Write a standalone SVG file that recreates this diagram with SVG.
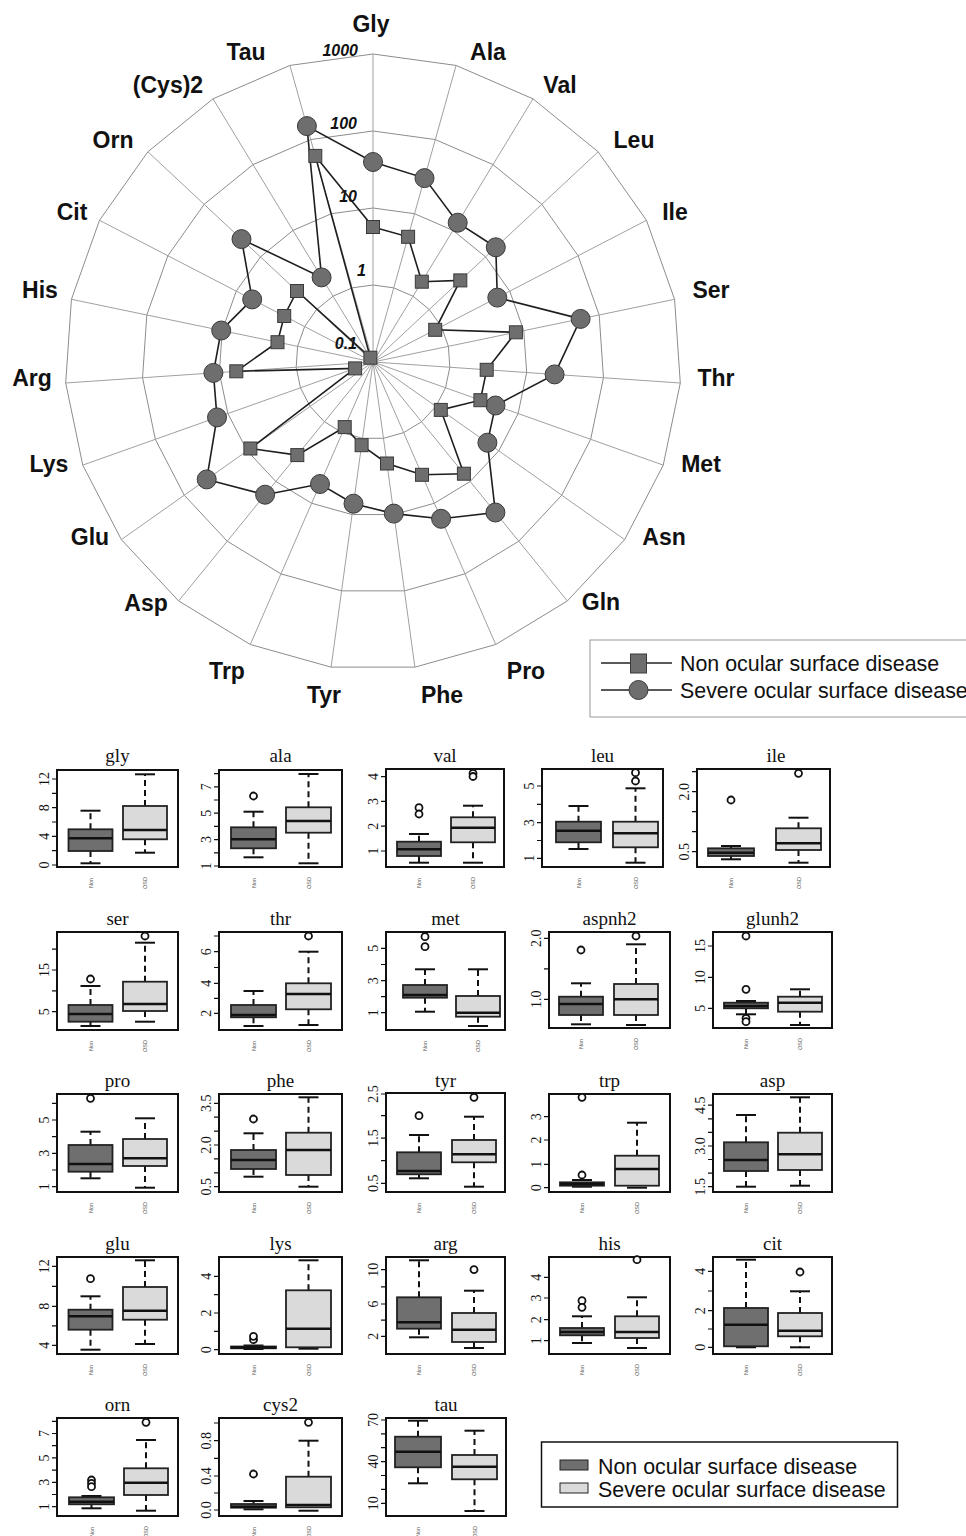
<svg xmlns="http://www.w3.org/2000/svg" xmlns:xlink="http://www.w3.org/1999/xlink" width="966" height="1536" viewBox="0 0 966 1536">
<style>
.ax{font-family:"Liberation Sans",Arial,sans-serif;font-weight:bold;font-size:23px;fill:#111;text-anchor:middle}
.rl{font-family:"Liberation Sans",Arial,sans-serif;font-weight:bold;font-style:italic;font-size:16px;fill:#111;text-anchor:end}
.lg{font-family:"Liberation Sans",Arial,sans-serif;font-size:21.4px;fill:#111}
.ring{fill:none;stroke:#8c8c8c;stroke-width:1;vector-effect:non-scaling-stroke}
.sp line{stroke:#a0a0a0;stroke-width:1}
.ser{fill:none;stroke:#1e1e1e;stroke-width:1.6}
.mk{fill:#6e6e6e;stroke:#3a3a3a;stroke-width:1}
.fr{fill:none;stroke:#111;stroke-width:2}
.tt{font-family:"Liberation Serif","Times New Roman",serif;font-size:19px;fill:#111;text-anchor:middle}
.yl{font-family:"Liberation Serif","Times New Roman",serif;font-size:14px;fill:#111;text-anchor:middle}
.xl{font-family:"Liberation Sans",Arial,sans-serif;font-size:5.5px;fill:#555;text-anchor:middle}
.tk{stroke:#111;stroke-width:1.2;fill:none}
.n{fill:#6f6f6f;stroke:#222;stroke-width:1.8}
.s{fill:#dadada;stroke:#222;stroke-width:1.8}
.md{stroke:#111;stroke-width:2.6}
.wk{stroke:#111;stroke-width:2;stroke-dasharray:6 4}
.cp{stroke:#111;stroke-width:2}
.o{fill:#fff;stroke:#111;stroke-width:1.8}
</style>
<defs>
<polygon id="ring" class="ring" points="0,-100 26.98,-96.29 51.96,-85.44 73.08,-68.26 88.79,-46.01 97.91,-20.35 99.77,6.82 94.23,33.49 81.70,57.67 63.10,77.58 39.84,91.72 13.62,99.07 -13.62,99.07 -39.84,91.72 -63.10,77.58 -81.70,57.67 -94.23,33.49 -99.77,6.82 -97.91,-20.35 -88.79,-46.01 -73.08,-68.26 -51.96,-85.44 -26.98,-96.29"/>
</defs>
<rect x="0" y="0" width="966" height="1536" fill="#fff"/>

<g id="radar-grid">
<use xlink:href="#ring" href="#ring" transform="translate(373,362) scale(0.77)"/>
<use xlink:href="#ring" href="#ring" transform="translate(373,362) scale(1.54)"/>
<use xlink:href="#ring" href="#ring" transform="translate(373,362) scale(2.31)"/>
<use xlink:href="#ring" href="#ring" transform="translate(373,362) scale(3.08)"/>
<g class="sp">
<line x1="373" y1="362" x2="373" y2="54"/>
<line x1="373" y1="362" x2="456.1" y2="65.4"/>
<line x1="373" y1="362" x2="533.0" y2="98.8"/>
<line x1="373" y1="362" x2="598.1" y2="151.8"/>
<line x1="373" y1="362" x2="646.5" y2="220.3"/>
<line x1="373" y1="362" x2="674.6" y2="299.3"/>
<line x1="373" y1="362" x2="680.3" y2="383.0"/>
<line x1="373" y1="362" x2="663.2" y2="465.1"/>
<line x1="373" y1="362" x2="624.6" y2="539.6"/>
<line x1="373" y1="362" x2="567.3" y2="600.9"/>
<line x1="373" y1="362" x2="495.7" y2="644.5"/>
<line x1="373" y1="362" x2="414.9" y2="667.1"/>
<line x1="373" y1="362" x2="331.1" y2="667.1"/>
<line x1="373" y1="362" x2="250.3" y2="644.5"/>
<line x1="373" y1="362" x2="178.7" y2="600.9"/>
<line x1="373" y1="362" x2="121.4" y2="539.6"/>
<line x1="373" y1="362" x2="82.8" y2="465.1"/>
<line x1="373" y1="362" x2="65.7" y2="383.0"/>
<line x1="373" y1="362" x2="71.4" y2="299.3"/>
<line x1="373" y1="362" x2="99.5" y2="220.3"/>
<line x1="373" y1="362" x2="147.9" y2="151.8"/>
<line x1="373" y1="362" x2="213.0" y2="98.8"/>
<line x1="373" y1="362" x2="289.9" y2="65.4"/>
</g>
<text class="rl" x="358" y="55.5">1000</text>
<text class="rl" x="357" y="128.5">100</text>
<text class="rl" x="357" y="202">10</text>
<text class="rl" x="366" y="275.5">1</text>
<text class="rl" x="357" y="348.5">0.1</text>
</g>

<g id="radar-labels">
<text class="ax" x="371" y="32">Gly</text>
<text class="ax" x="488" y="60">Ala</text>
<text class="ax" x="560" y="93">Val</text>
<text class="ax" x="634" y="148">Leu</text>
<text class="ax" x="675" y="220">Ile</text>
<text class="ax" x="711" y="298">Ser</text>
<text class="ax" x="716" y="386">Thr</text>
<text class="ax" x="701" y="472">Met</text>
<text class="ax" x="664" y="545">Asn</text>
<text class="ax" x="601" y="610">Gln</text>
<text class="ax" x="526" y="679">Pro</text>
<text class="ax" x="442" y="703">Phe</text>
<text class="ax" x="324" y="703">Tyr</text>
<text class="ax" x="227" y="679">Trp</text>
<text class="ax" x="146" y="611">Asp</text>
<text class="ax" x="90" y="545">Glu</text>
<text class="ax" x="49" y="472">Lys</text>
<text class="ax" x="32" y="386">Arg</text>
<text class="ax" x="40" y="298">His</text>
<text class="ax" x="72" y="220">Cit</text>
<text class="ax" x="113" y="148">Orn</text>
<text class="ax" x="168" y="93">(Cys)2</text>
<text class="ax" x="246" y="60">Tau</text>
</g>

<g id="connectors">
<polygon class="ser" points="373,162 424.5,178.1 457.7,222.7 495.8,247.3 497.3,297.6 580.6,318.9 554.6,374.4 495.5,405.5 487.4,442.7 495.4,512.5 441.1,518.8 393.8,513.6 353.5,503.7 320.0,484.0 265.1,494.7 206.7,479.4 217.0,417.4 213.4,372.9 221.2,330.5 252.2,299.4 241.5,239.1 321.6,277.4 306.9,126.1"/>
<polygon class="ser" points="373,227 408.1,236.8 421.8,281.7 460.3,280.4 435.2,329.8 515.9,332.3 486.7,369.8 480.4,400.2 440.8,409.9 463.9,473.7 422.0,474.8 387.0,463.5 361.6,445.2 344.7,427.1 297.3,455.1 250.4,448.5 355.1,368.4 236.3,371.3 277.5,342.2 284.2,316.0 297.0,291.0 370.4,357.7 315.3,155.9"/>
</g>

<g id="severe-markers" class="mk">
<circle cx="373" cy="162" r="9.5"/><circle cx="424.5" cy="178.1" r="9.5"/><circle cx="457.7" cy="222.7" r="9.5"/><circle cx="495.8" cy="247.3" r="9.5"/><circle cx="497.3" cy="297.6" r="9.5"/><circle cx="580.6" cy="318.9" r="9.5"/><circle cx="554.6" cy="374.4" r="9.5"/><circle cx="495.5" cy="405.5" r="9.5"/><circle cx="487.4" cy="442.7" r="9.5"/><circle cx="495.4" cy="512.5" r="9.5"/><circle cx="441.1" cy="518.8" r="9.5"/><circle cx="393.8" cy="513.6" r="9.5"/><circle cx="353.5" cy="503.7" r="9.5"/><circle cx="320.0" cy="484.0" r="9.5"/><circle cx="265.1" cy="494.7" r="9.5"/><circle cx="206.7" cy="479.4" r="9.5"/><circle cx="217.0" cy="417.4" r="9.5"/><circle cx="213.4" cy="372.9" r="9.5"/><circle cx="221.2" cy="330.5" r="9.5"/><circle cx="252.2" cy="299.4" r="9.5"/><circle cx="241.5" cy="239.1" r="9.5"/><circle cx="321.6" cy="277.4" r="9.5"/><circle cx="306.9" cy="126.1" r="9.5"/>
</g>
<g id="non-markers" class="mk">
<rect x="366.5" y="220.5" width="13" height="13"/><rect x="401.6" y="230.3" width="13" height="13"/><rect x="415.3" y="275.2" width="13" height="13"/><rect x="453.8" y="273.9" width="13" height="13"/><rect x="428.7" y="323.3" width="13" height="13"/><rect x="509.4" y="325.8" width="13" height="13"/><rect x="480.2" y="363.3" width="13" height="13"/><rect x="473.9" y="393.7" width="13" height="13"/><rect x="434.3" y="403.4" width="13" height="13"/><rect x="457.4" y="467.2" width="13" height="13"/><rect x="415.5" y="468.3" width="13" height="13"/><rect x="380.5" y="457.0" width="13" height="13"/><rect x="355.1" y="438.7" width="13" height="13"/><rect x="338.2" y="420.6" width="13" height="13"/><rect x="290.8" y="448.6" width="13" height="13"/><rect x="243.9" y="442.0" width="13" height="13"/><rect x="348.6" y="361.9" width="13" height="13"/><rect x="229.8" y="364.8" width="13" height="13"/><rect x="271.0" y="335.7" width="13" height="13"/><rect x="277.7" y="309.5" width="13" height="13"/><rect x="290.5" y="284.5" width="13" height="13"/><rect x="363.9" y="351.2" width="13" height="13"/><rect x="308.8" y="149.4" width="13" height="13"/>
</g>

<g id="radar-legend">
<rect x="590" y="640" width="390" height="77" fill="none" stroke="#9a9a9a" stroke-width="1"/>
<line x1="601" y1="663" x2="672" y2="663" stroke="#222" stroke-width="1.5"/>
<rect x="630.5" y="654" width="16" height="19" class="mk"/>
<line x1="601" y1="690" x2="672" y2="690" stroke="#222" stroke-width="1.5"/>
<circle cx="638.5" cy="690" r="9.5" class="mk"/>
<text class="lg" x="680" y="671">Non ocular surface disease</text>
<text class="lg" x="680" y="698">Severe ocular surface disease</text>
</g>

<!-- Row 1 -->
<g id="p-gly">
<rect class="fr" x="57" y="770" width="121" height="97"/>
<text class="tt" x="117.5" y="762">gly</text>
<path class="tk" d="M52 865H57M52 850.7H57M52 836.3H57M52 822H57M52 807.7H57M52 793.3H57M52 779H57"/>
<text class="yl" transform="translate(49,865) rotate(-90)">0</text>
<text class="yl" transform="translate(49,836.3) rotate(-90)">4</text>
<text class="yl" transform="translate(49,807.7) rotate(-90)">8</text>
<text class="yl" transform="translate(49,779) rotate(-90)">12</text>
<text class="xl" transform="translate(92.5,883) rotate(-90)">Non</text>
<text class="xl" transform="translate(147,883) rotate(-90)">OSD</text>
<line class="wk" x1="90.5" y1="829.3" x2="90.5" y2="810.7"/><line class="wk" x1="90.5" y1="851" x2="90.5" y2="863.3"/>
<line class="cp" x1="80.5" y1="810.7" x2="100.5" y2="810.7"/><line class="cp" x1="80.5" y1="863.3" x2="100.5" y2="863.3"/>
<rect class="n" x="68.5" y="829.3" width="44" height="21.7"/><line class="md" x1="68.5" y1="838.3" x2="112.5" y2="838.3"/>
<line class="wk" x1="145" y1="806" x2="145" y2="774.3"/><line class="wk" x1="145" y1="839.3" x2="145" y2="852.7"/>
<line class="cp" x1="135" y1="774.3" x2="155" y2="774.3"/><line class="cp" x1="135" y1="852.7" x2="155" y2="852.7"/>
<rect class="s" x="123" y="806" width="44" height="33.3"/><line class="md" x1="123" y1="830" x2="167" y2="830"/>
</g>

<g id="p-ala">
<rect class="fr" x="219" y="770" width="123" height="97"/>
<text class="tt" x="280.5" y="762">ala</text>
<path class="tk" d="M214 866H219M214 852.8H219M214 839.6H219M214 826.4H219M214 813.2H219M214 800H219M214 786.8H219M214 773.6H219"/>
<text class="yl" transform="translate(211,866) rotate(-90)">1</text>
<text class="yl" transform="translate(211,839.6) rotate(-90)">3</text>
<text class="yl" transform="translate(211,813.2) rotate(-90)">5</text>
<text class="yl" transform="translate(211,786.8) rotate(-90)">7</text>
<text class="xl" transform="translate(255.5,883) rotate(-90)">Non</text>
<text class="xl" transform="translate(310.5,883) rotate(-90)">OSD</text>
<line class="wk" x1="253.5" y1="827.3" x2="253.5" y2="811.7"/><line class="wk" x1="253.5" y1="848.3" x2="253.5" y2="857.3"/>
<line class="cp" x1="243.5" y1="811.7" x2="263.5" y2="811.7"/><line class="cp" x1="243.5" y1="857.3" x2="263.5" y2="857.3"/>
<rect class="n" x="231" y="827.3" width="45" height="21"/><line class="md" x1="231" y1="839.3" x2="276" y2="839.3"/>
<circle class="o" cx="253.5" cy="796" r="3.5"/>
<line class="wk" x1="308.5" y1="807.3" x2="308.5" y2="774"/><line class="wk" x1="308.5" y1="832.7" x2="308.5" y2="863.3"/>
<line class="cp" x1="298.5" y1="774" x2="318.5" y2="774"/><line class="cp" x1="298.5" y1="863.3" x2="318.5" y2="863.3"/>
<rect class="s" x="286" y="807.3" width="45" height="25.4"/><line class="md" x1="286" y1="821" x2="331" y2="821"/>
</g>

<g id="p-val">
<rect class="fr" x="386" y="769" width="118" height="98"/>
<text class="tt" x="445" y="762">val</text>
<path class="tk" d="M381 851H386M381 826.2H386M381 801.4H386M381 776.6H386"/>
<text class="yl" transform="translate(378,851) rotate(-90)">1</text>
<text class="yl" transform="translate(378,826.2) rotate(-90)">2</text>
<text class="yl" transform="translate(378,801.4) rotate(-90)">3</text>
<text class="yl" transform="translate(378,776.6) rotate(-90)">4</text>
<text class="xl" transform="translate(421,883) rotate(-90)">Non</text>
<text class="xl" transform="translate(475,883) rotate(-90)">OSD</text>
<line class="wk" x1="419" y1="841.7" x2="419" y2="834"/><line class="wk" x1="419" y1="856" x2="419" y2="862.7"/>
<line class="cp" x1="409" y1="834" x2="429" y2="834"/><line class="cp" x1="409" y1="862.7" x2="429" y2="862.7"/>
<rect class="n" x="397" y="841.7" width="44" height="14.3"/><line class="md" x1="397" y1="849.3" x2="441" y2="849.3"/>
<circle class="o" cx="419" cy="807.7" r="3.5"/><circle class="o" cx="419" cy="814" r="3.5"/>
<line class="wk" x1="473" y1="817.3" x2="473" y2="805.7"/><line class="wk" x1="473" y1="842.3" x2="473" y2="862.7"/>
<line class="cp" x1="463" y1="805.7" x2="483" y2="805.7"/><line class="cp" x1="463" y1="862.7" x2="483" y2="862.7"/>
<rect class="s" x="451" y="817.3" width="44" height="25"/><line class="md" x1="451" y1="827.7" x2="495" y2="827.7"/>
<circle class="o" cx="473" cy="773.3" r="3.5"/><circle class="o" cx="473" cy="776.5" r="3.5"/>
</g>

<g id="p-leu">
<rect class="fr" x="542" y="769" width="121" height="98"/>
<text class="tt" x="602.5" y="762">leu</text>
<path class="tk" d="M537 858.3H542M537 840.5H542M537 822.7H542M537 804.4H542M537 786H542"/>
<text class="yl" transform="translate(534,858.3) rotate(-90)">1</text>
<text class="yl" transform="translate(534,822.7) rotate(-90)">3</text>
<text class="yl" transform="translate(534,786) rotate(-90)">5</text>
<text class="xl" transform="translate(580.5,883) rotate(-90)">Non</text>
<text class="xl" transform="translate(637.5,883) rotate(-90)">OSD</text>
<line class="wk" x1="578.5" y1="821.7" x2="578.5" y2="806"/><line class="wk" x1="578.5" y1="842.3" x2="578.5" y2="849"/>
<line class="cp" x1="568.5" y1="806" x2="588.5" y2="806"/><line class="cp" x1="568.5" y1="849" x2="588.5" y2="849"/>
<rect class="n" x="556" y="821.7" width="45" height="20.6"/><line class="md" x1="556" y1="830.7" x2="601" y2="830.7"/>
<line class="wk" x1="635.5" y1="821.7" x2="635.5" y2="788.3"/><line class="wk" x1="635.5" y1="847.3" x2="635.5" y2="862.7"/>
<line class="cp" x1="625.5" y1="788.3" x2="645.5" y2="788.3"/><line class="cp" x1="625.5" y1="862.7" x2="645.5" y2="862.7"/>
<rect class="s" x="613" y="821.7" width="45" height="25.6"/><line class="md" x1="613" y1="833.3" x2="658" y2="833.3"/>
<circle class="o" cx="635.5" cy="772.7" r="3.5"/><circle class="o" cx="635.5" cy="781" r="3.5"/>
</g>

<g id="p-ile">
<rect class="fr" x="697" y="769" width="133" height="98"/>
<text class="tt" x="776" y="762">ile</text>
<path class="tk" d="M692 851.7H697M692 831.7H697M692 811.7H697M692 791.7H697M692 771.7H697"/>
<text class="yl" transform="translate(689,851.7) rotate(-90)">0.5</text>
<text class="yl" transform="translate(689,791.7) rotate(-90)">2.0</text>
<text class="xl" transform="translate(733,883) rotate(-90)">Non</text>
<text class="xl" transform="translate(800.5,883) rotate(-90)">OSD</text>
<line class="wk" x1="731" y1="848.3" x2="731" y2="846"/><line class="wk" x1="731" y1="856" x2="731" y2="859.3"/>
<line class="cp" x1="721" y1="846" x2="741" y2="846"/><line class="cp" x1="721" y1="859.3" x2="741" y2="859.3"/>
<rect class="n" x="708" y="848.3" width="46" height="7.7"/><line class="md" x1="708" y1="852.7" x2="754" y2="852.7"/>
<circle class="o" cx="731" cy="800" r="3.5"/>
<line class="wk" x1="798.5" y1="828.3" x2="798.5" y2="817.7"/><line class="wk" x1="798.5" y1="850" x2="798.5" y2="862.7"/>
<line class="cp" x1="788.5" y1="817.7" x2="808.5" y2="817.7"/><line class="cp" x1="788.5" y1="862.7" x2="808.5" y2="862.7"/>
<rect class="s" x="776" y="828.3" width="45" height="21.7"/><line class="md" x1="776" y1="843.3" x2="821" y2="843.3"/>
<circle class="o" cx="798.5" cy="773.3" r="3.5"/>
</g>

<!-- Row 2 -->
<g id="p-ser">
<rect class="fr" x="57" y="932" width="121" height="98"/>
<text class="tt" x="117.5" y="925">ser</text>
<path class="tk" d="M52 1011.7H57M52 990.8H57M52 970H57M52 949.2H57"/>
<text class="yl" transform="translate(49,1011.7) rotate(-90)">5</text>
<text class="yl" transform="translate(49,970) rotate(-90)">15</text>
<text class="xl" transform="translate(92.5,1046) rotate(-90)">Non</text>
<text class="xl" transform="translate(147,1046) rotate(-90)">OSD</text>
<line class="wk" x1="90.5" y1="1005" x2="90.5" y2="986"/><line class="wk" x1="90.5" y1="1021.7" x2="90.5" y2="1026"/>
<line class="cp" x1="80.5" y1="986" x2="100.5" y2="986"/><line class="cp" x1="80.5" y1="1026" x2="100.5" y2="1026"/>
<rect class="n" x="68.5" y="1005" width="44" height="16.7"/><line class="md" x1="68.5" y1="1014" x2="112.5" y2="1014"/>
<circle class="o" cx="90.5" cy="979" r="3.5"/>
<line class="wk" x1="145" y1="981.7" x2="145" y2="942.7"/><line class="wk" x1="145" y1="1011" x2="145" y2="1021.7"/>
<line class="cp" x1="135" y1="942.7" x2="155" y2="942.7"/><line class="cp" x1="135" y1="1021.7" x2="155" y2="1021.7"/>
<rect class="s" x="123" y="981.7" width="44" height="29.3"/><line class="md" x1="123" y1="1004" x2="167" y2="1004"/>
<circle class="o" cx="145" cy="936" r="3.5"/>
</g>

<g id="p-thr">
<rect class="fr" x="219" y="932" width="123" height="98"/>
<text class="tt" x="280.5" y="925">thr</text>
<path class="tk" d="M214 1013.3H219M214 998.3H219M214 983.3H219M214 967.5H219M214 951.7H219M214 936H219"/>
<text class="yl" transform="translate(211,1013.3) rotate(-90)">2</text>
<text class="yl" transform="translate(211,983.3) rotate(-90)">4</text>
<text class="yl" transform="translate(211,951.7) rotate(-90)">6</text>
<text class="xl" transform="translate(255.5,1046) rotate(-90)">Non</text>
<text class="xl" transform="translate(310.5,1046) rotate(-90)">OSD</text>
<line class="wk" x1="253.5" y1="1005" x2="253.5" y2="991"/><line class="wk" x1="253.5" y1="1017.3" x2="253.5" y2="1026"/>
<line class="cp" x1="243.5" y1="991" x2="263.5" y2="991"/><line class="cp" x1="243.5" y1="1026" x2="263.5" y2="1026"/>
<rect class="n" x="231" y="1005" width="45" height="12.3"/><line class="md" x1="231" y1="1015" x2="276" y2="1015"/>
<line class="wk" x1="308.5" y1="983.3" x2="308.5" y2="951.7"/><line class="wk" x1="308.5" y1="1009.3" x2="308.5" y2="1025"/>
<line class="cp" x1="298.5" y1="951.7" x2="318.5" y2="951.7"/><line class="cp" x1="298.5" y1="1025" x2="318.5" y2="1025"/>
<rect class="s" x="286" y="983.3" width="45" height="26"/><line class="md" x1="286" y1="994" x2="331" y2="994"/>
<circle class="o" cx="308.5" cy="936" r="3.5"/>
</g>

<g id="p-met">
<rect class="fr" x="386" y="932" width="119" height="98"/>
<text class="tt" x="445.5" y="925">met</text>
<path class="tk" d="M381 1012.7H386M381 996.7H386M381 980.7H386M381 964.5H386M381 948.3H386"/>
<text class="yl" transform="translate(378,1012.7) rotate(-90)">1</text>
<text class="yl" transform="translate(378,980.7) rotate(-90)">3</text>
<text class="yl" transform="translate(378,948.3) rotate(-90)">5</text>
<text class="xl" transform="translate(427,1046) rotate(-90)">Non</text>
<text class="xl" transform="translate(480,1046) rotate(-90)">OSD</text>
<line class="wk" x1="425" y1="985" x2="425" y2="969.3"/><line class="wk" x1="425" y1="997.7" x2="425" y2="1011.7"/>
<line class="cp" x1="415" y1="969.3" x2="435" y2="969.3"/><line class="cp" x1="415" y1="1011.7" x2="435" y2="1011.7"/>
<rect class="n" x="403" y="985" width="44" height="12.7"/><line class="md" x1="403" y1="995" x2="447" y2="995"/>
<circle class="o" cx="425" cy="936.7" r="3.5"/><circle class="o" cx="425" cy="946.7" r="3.5"/>
<line class="wk" x1="478" y1="996" x2="478" y2="969.3"/><line class="wk" x1="478" y1="1016.7" x2="478" y2="1026"/>
<line class="cp" x1="468" y1="969.3" x2="488" y2="969.3"/><line class="cp" x1="468" y1="1026" x2="488" y2="1026"/>
<rect class="s" x="456" y="996" width="44" height="20.7"/><line class="md" x1="456" y1="1012.7" x2="500" y2="1012.7"/>
</g>

<g id="p-aspnh2">
<rect class="fr" x="549" y="932" width="121" height="96"/>
<text class="tt" x="609.5" y="925">aspnh2</text>
<path class="tk" d="M544 999.3H549M544 968.8H549M544 938.3H549"/>
<text class="yl" transform="translate(541,999.3) rotate(-90)">1.0</text>
<text class="yl" transform="translate(541,938.3) rotate(-90)">2.0</text>
<text class="xl" transform="translate(583,1044) rotate(-90)">Non</text>
<text class="xl" transform="translate(638,1044) rotate(-90)">OSD</text>
<line class="wk" x1="581" y1="996.7" x2="581" y2="983.3"/><line class="wk" x1="581" y1="1015" x2="581" y2="1024.3"/>
<line class="cp" x1="571" y1="983.3" x2="591" y2="983.3"/><line class="cp" x1="571" y1="1024.3" x2="591" y2="1024.3"/>
<rect class="n" x="559" y="996.7" width="44" height="18.3"/><line class="md" x1="559" y1="1004" x2="603" y2="1004"/>
<circle class="o" cx="581" cy="950" r="3.5"/>
<line class="wk" x1="636" y1="984" x2="636" y2="944.3"/><line class="wk" x1="636" y1="1015" x2="636" y2="1025"/>
<line class="cp" x1="626" y1="944.3" x2="646" y2="944.3"/><line class="cp" x1="626" y1="1025" x2="646" y2="1025"/>
<rect class="s" x="614" y="984" width="44" height="31"/><line class="md" x1="614" y1="999.3" x2="658" y2="999.3"/>
<circle class="o" cx="636" cy="936" r="3.5"/>
</g>

<g id="p-glunh2">
<rect class="fr" x="713" y="932" width="119" height="96"/>
<text class="tt" x="772.5" y="925">glunh2</text>
<path class="tk" d="M708 1008.3H713M708 977.3H713M708 946H713"/>
<text class="yl" transform="translate(705,1008.3) rotate(-90)">5</text>
<text class="yl" transform="translate(705,977.3) rotate(-90)">10</text>
<text class="yl" transform="translate(705,946) rotate(-90)">15</text>
<text class="xl" transform="translate(748,1044) rotate(-90)">Non</text>
<text class="xl" transform="translate(802,1044) rotate(-90)">OSD</text>
<line class="wk" x1="746" y1="1008.3" x2="746" y2="1014.3"/>
<line class="cp" x1="736" y1="1001" x2="756" y2="1001"/><line class="cp" x1="736" y1="1014.3" x2="756" y2="1014.3"/>
<rect class="n" x="724" y="1002.7" width="44" height="5.6"/><line class="md" x1="724" y1="1006" x2="768" y2="1006"/>
<circle class="o" cx="746" cy="936" r="3.5"/><circle class="o" cx="746" cy="989.3" r="3.5"/><circle class="o" cx="746" cy="1018.3" r="3.5"/><circle class="o" cx="746" cy="1021.7" r="3.5"/>
<line class="wk" x1="800" y1="996.7" x2="800" y2="989.3"/><line class="wk" x1="800" y1="1011.7" x2="800" y2="1025"/>
<line class="cp" x1="790" y1="989.3" x2="810" y2="989.3"/><line class="cp" x1="790" y1="1025" x2="810" y2="1025"/>
<rect class="s" x="778" y="996.7" width="44" height="15"/><line class="md" x1="778" y1="1002.7" x2="822" y2="1002.7"/>
</g>

<!-- Row 3 -->
<g id="p-pro">
<rect class="fr" x="57" y="1094" width="121" height="98"/>
<text class="tt" x="117.5" y="1087">pro</text>
<path class="tk" d="M52 1186.7H57M52 1170H57M52 1153.3H57M52 1136.7H57M52 1120H57M52 1103.3H57"/>
<text class="yl" transform="translate(49,1186.7) rotate(-90)">1</text>
<text class="yl" transform="translate(49,1153.3) rotate(-90)">3</text>
<text class="yl" transform="translate(49,1120) rotate(-90)">5</text>
<text class="xl" transform="translate(92.5,1208) rotate(-90)">Non</text>
<text class="xl" transform="translate(147,1208) rotate(-90)">OSD</text>
<line class="wk" x1="90.5" y1="1145" x2="90.5" y2="1131.7"/><line class="wk" x1="90.5" y1="1171.7" x2="90.5" y2="1178.3"/>
<line class="cp" x1="80.5" y1="1131.7" x2="100.5" y2="1131.7"/><line class="cp" x1="80.5" y1="1178.3" x2="100.5" y2="1178.3"/>
<rect class="n" x="68.5" y="1145" width="44" height="26.7"/><line class="md" x1="68.5" y1="1164" x2="112.5" y2="1164"/>
<circle class="o" cx="90.5" cy="1098.3" r="3.5"/>
<line class="wk" x1="145" y1="1139" x2="145" y2="1118.3"/><line class="wk" x1="145" y1="1166" x2="145" y2="1187.7"/>
<line class="cp" x1="135" y1="1118.3" x2="155" y2="1118.3"/><line class="cp" x1="135" y1="1187.7" x2="155" y2="1187.7"/>
<rect class="s" x="123" y="1139" width="44" height="27"/><line class="md" x1="123" y1="1158.3" x2="167" y2="1158.3"/>
</g>

<g id="p-phe">
<rect class="fr" x="219" y="1094" width="123" height="98"/>
<text class="tt" x="280.5" y="1087">phe</text>
<path class="tk" d="M214 1186.7H219M214 1172.8H219M214 1158.9H219M214 1145H219M214 1131.1H219M214 1117.2H219M214 1103.3H219"/>
<text class="yl" transform="translate(211,1186.7) rotate(-90)">0.5</text>
<text class="yl" transform="translate(211,1145) rotate(-90)">2.0</text>
<text class="yl" transform="translate(211,1103.3) rotate(-90)">3.5</text>
<text class="xl" transform="translate(255.5,1208) rotate(-90)">Non</text>
<text class="xl" transform="translate(310.5,1208) rotate(-90)">OSD</text>
<line class="wk" x1="253.5" y1="1150" x2="253.5" y2="1133.3"/><line class="wk" x1="253.5" y1="1169" x2="253.5" y2="1176.7"/>
<line class="cp" x1="243.5" y1="1133.3" x2="263.5" y2="1133.3"/><line class="cp" x1="243.5" y1="1176.7" x2="263.5" y2="1176.7"/>
<rect class="n" x="231" y="1150" width="45" height="19"/><line class="md" x1="231" y1="1160" x2="276" y2="1160"/>
<circle class="o" cx="253.5" cy="1119" r="3.5"/>
<line class="wk" x1="308.5" y1="1132.7" x2="308.5" y2="1097.3"/><line class="wk" x1="308.5" y1="1175" x2="308.5" y2="1186.7"/>
<line class="cp" x1="298.5" y1="1097.3" x2="318.5" y2="1097.3"/><line class="cp" x1="298.5" y1="1186.7" x2="318.5" y2="1186.7"/>
<rect class="s" x="286" y="1132.7" width="45" height="42.3"/><line class="md" x1="286" y1="1150" x2="331" y2="1150"/>
</g>

<g id="p-tyr">
<rect class="fr" x="386" y="1093" width="119" height="99"/>
<text class="tt" x="445.5" y="1087">tyr</text>
<path class="tk" d="M381 1183.3H386M381 1160.7H386M381 1138.1H386M381 1115.6H386M381 1094H386"/>
<text class="yl" transform="translate(378,1183.3) rotate(-90)">0.5</text>
<text class="yl" transform="translate(378,1138.1) rotate(-90)">1.5</text>
<text class="yl" transform="translate(378,1094) rotate(-90)">2.5</text>
<text class="xl" transform="translate(421,1208) rotate(-90)">Non</text>
<text class="xl" transform="translate(476,1208) rotate(-90)">OSD</text>
<line class="wk" x1="419" y1="1152.3" x2="419" y2="1135"/><line class="wk" x1="419" y1="1174.3" x2="419" y2="1178.3"/>
<line class="cp" x1="409" y1="1135" x2="429" y2="1135"/><line class="cp" x1="409" y1="1178.3" x2="429" y2="1178.3"/>
<rect class="n" x="397" y="1152.3" width="44" height="22"/><line class="md" x1="397" y1="1171" x2="441" y2="1171"/>
<circle class="o" cx="419" cy="1115.7" r="3.5"/>
<line class="wk" x1="474" y1="1140" x2="474" y2="1116.7"/><line class="wk" x1="474" y1="1162.3" x2="474" y2="1186.7"/>
<line class="cp" x1="464" y1="1116.7" x2="484" y2="1116.7"/><line class="cp" x1="464" y1="1186.7" x2="484" y2="1186.7"/>
<rect class="s" x="452" y="1140" width="44" height="22.3"/><line class="md" x1="452" y1="1154.3" x2="496" y2="1154.3"/>
<circle class="o" cx="474" cy="1097.3" r="3.5"/>
</g>

<g id="p-trp">
<rect class="fr" x="549" y="1094" width="121" height="98"/>
<text class="tt" x="609.5" y="1087">trp</text>
<path class="tk" d="M544 1187.7H549M544 1164.3H549M544 1140H549M544 1116.7H549"/>
<text class="yl" transform="translate(541,1187.7) rotate(-90)">0</text>
<text class="yl" transform="translate(541,1164.3) rotate(-90)">1</text>
<text class="yl" transform="translate(541,1140) rotate(-90)">2</text>
<text class="yl" transform="translate(541,1116.7) rotate(-90)">3</text>
<text class="xl" transform="translate(584,1208) rotate(-90)">Non</text>
<text class="xl" transform="translate(639,1208) rotate(-90)">OSD</text>
<line class="cp" x1="572" y1="1180" x2="592" y2="1180"/><line class="cp" x1="572" y1="1186.7" x2="592" y2="1186.7"/>
<rect class="n" x="560" y="1182.3" width="44" height="3.4"/><line class="md" x1="560" y1="1184" x2="604" y2="1184"/>
<circle class="o" cx="582" cy="1175" r="3.5"/><circle class="o" cx="582" cy="1097.3" r="3.5"/>
<line class="wk" x1="637" y1="1155.7" x2="637" y2="1122.7"/>
<line class="cp" x1="627" y1="1122.7" x2="647" y2="1122.7"/><line class="cp" x1="627" y1="1187.7" x2="647" y2="1187.7"/>
<rect class="s" x="615" y="1155.7" width="44" height="30"/><line class="md" x1="615" y1="1169" x2="659" y2="1169"/>
</g>

<g id="p-asp">
<rect class="fr" x="713" y="1094" width="119" height="98"/>
<text class="tt" x="772.5" y="1087">asp</text>
<path class="tk" d="M708 1186.7H713M708 1173.1H713M708 1159.5H713M708 1146H713M708 1132.4H713M708 1118.8H713M708 1105.2H713"/>
<text class="yl" transform="translate(705,1186.7) rotate(-90)">1.5</text>
<text class="yl" transform="translate(705,1146) rotate(-90)">3.0</text>
<text class="yl" transform="translate(705,1105.2) rotate(-90)">4.5</text>
<text class="xl" transform="translate(748,1208) rotate(-90)">Non</text>
<text class="xl" transform="translate(802,1208) rotate(-90)">OSD</text>
<line class="wk" x1="746" y1="1142.3" x2="746" y2="1115"/><line class="wk" x1="746" y1="1171" x2="746" y2="1186.7"/>
<line class="cp" x1="736" y1="1115" x2="756" y2="1115"/><line class="cp" x1="736" y1="1186.7" x2="756" y2="1186.7"/>
<rect class="n" x="724" y="1142.3" width="44" height="28.7"/><line class="md" x1="724" y1="1160" x2="768" y2="1160"/>
<line class="wk" x1="800" y1="1132.7" x2="800" y2="1097.3"/><line class="wk" x1="800" y1="1170" x2="800" y2="1185.7"/>
<line class="cp" x1="790" y1="1097.3" x2="810" y2="1097.3"/><line class="cp" x1="790" y1="1185.7" x2="810" y2="1185.7"/>
<rect class="s" x="778" y="1132.7" width="44" height="37.3"/><line class="md" x1="778" y1="1154.3" x2="822" y2="1154.3"/>
</g>

<!-- Row 4 -->
<g id="p-glu">
<rect class="fr" x="57" y="1257" width="121" height="97"/>
<text class="tt" x="117.5" y="1250">glu</text>
<path class="tk" d="M52 1345.3H57M52 1325.8H57M52 1306.3H57M52 1286.3H57M52 1266.3H57"/>
<text class="yl" transform="translate(49,1345.3) rotate(-90)">4</text>
<text class="yl" transform="translate(49,1306.3) rotate(-90)">8</text>
<text class="yl" transform="translate(49,1266.3) rotate(-90)">12</text>
<text class="xl" transform="translate(92.5,1370) rotate(-90)">Non</text>
<text class="xl" transform="translate(147,1370) rotate(-90)">OSD</text>
<line class="wk" x1="90.5" y1="1309.7" x2="90.5" y2="1296.3"/><line class="wk" x1="90.5" y1="1329.7" x2="90.5" y2="1349.7"/>
<line class="cp" x1="80.5" y1="1296.3" x2="100.5" y2="1296.3"/><line class="cp" x1="80.5" y1="1349.7" x2="100.5" y2="1349.7"/>
<rect class="n" x="68.5" y="1309.7" width="44" height="20"/><line class="md" x1="68.5" y1="1316.3" x2="112.5" y2="1316.3"/>
<circle class="o" cx="90.5" cy="1278.7" r="3.5"/>
<line class="wk" x1="145" y1="1287" x2="145" y2="1260.3"/><line class="wk" x1="145" y1="1319.7" x2="145" y2="1344"/>
<line class="cp" x1="135" y1="1260.3" x2="155" y2="1260.3"/><line class="cp" x1="135" y1="1344" x2="155" y2="1344"/>
<rect class="s" x="123" y="1287" width="44" height="32.7"/><line class="md" x1="123" y1="1310.7" x2="167" y2="1310.7"/>
</g>

<g id="p-lys">
<rect class="fr" x="219" y="1257" width="123" height="97"/>
<text class="tt" x="280.5" y="1250">lys</text>
<path class="tk" d="M214 1349.7H219M214 1331.3H219M214 1313H219M214 1294.7H219M214 1276.3H219"/>
<text class="yl" transform="translate(211,1349.7) rotate(-90)">0</text>
<text class="yl" transform="translate(211,1313) rotate(-90)">2</text>
<text class="yl" transform="translate(211,1276.3) rotate(-90)">4</text>
<text class="xl" transform="translate(255.5,1370) rotate(-90)">Non</text>
<text class="xl" transform="translate(310.5,1370) rotate(-90)">OSD</text>
<line class="cp" x1="243.5" y1="1345.5" x2="263.5" y2="1345.5"/><line class="cp" x1="243.5" y1="1349" x2="263.5" y2="1349"/>
<rect class="n" x="231" y="1346.5" width="45" height="1.8"/><line class="md" x1="231" y1="1347.5" x2="276" y2="1347.5"/>
<circle class="o" cx="253.5" cy="1339.7" r="3.5"/><circle class="o" cx="253.5" cy="1336.3" r="3.5"/>
<line class="wk" x1="308.5" y1="1290.3" x2="308.5" y2="1260.3"/>
<line class="cp" x1="298.5" y1="1260.3" x2="318.5" y2="1260.3"/><line class="cp" x1="298.5" y1="1348.7" x2="318.5" y2="1348.7"/>
<rect class="s" x="286" y="1290.3" width="45" height="57"/><line class="md" x1="286" y1="1328.7" x2="331" y2="1328.7"/>
</g>

<g id="p-arg">
<rect class="fr" x="386" y="1257" width="119" height="97"/>
<text class="tt" x="445.5" y="1250">arg</text>
<path class="tk" d="M381 1336.3H386M381 1320.2H386M381 1304H386M381 1286.8H386M381 1269.7H386"/>
<text class="yl" transform="translate(378,1336.3) rotate(-90)">2</text>
<text class="yl" transform="translate(378,1304) rotate(-90)">6</text>
<text class="yl" transform="translate(378,1269.7) rotate(-90)">10</text>
<text class="xl" transform="translate(421,1370) rotate(-90)">Non</text>
<text class="xl" transform="translate(476,1370) rotate(-90)">OSD</text>
<line class="wk" x1="419" y1="1297.3" x2="419" y2="1260.3"/><line class="wk" x1="419" y1="1328.7" x2="419" y2="1337.3"/>
<line class="cp" x1="409" y1="1260.3" x2="429" y2="1260.3"/><line class="cp" x1="409" y1="1337.3" x2="429" y2="1337.3"/>
<rect class="n" x="397" y="1297.3" width="44" height="31.4"/><line class="md" x1="397" y1="1322.3" x2="441" y2="1322.3"/>
<line class="wk" x1="474" y1="1313" x2="474" y2="1290.7"/><line class="wk" x1="474" y1="1342" x2="474" y2="1348"/>
<line class="cp" x1="464" y1="1290.7" x2="484" y2="1290.7"/><line class="cp" x1="464" y1="1348" x2="484" y2="1348"/>
<rect class="s" x="452" y="1313" width="44" height="29"/><line class="md" x1="452" y1="1329.7" x2="496" y2="1329.7"/>
<circle class="o" cx="474" cy="1269.7" r="3.5"/>
</g>

<g id="p-his">
<rect class="fr" x="549" y="1257" width="121" height="97"/>
<text class="tt" x="609.5" y="1250">his</text>
<path class="tk" d="M544 1340.7H549M544 1319.7H549M544 1298H549M544 1277.3H549"/>
<text class="yl" transform="translate(541,1340.7) rotate(-90)">1</text>
<text class="yl" transform="translate(541,1319.7) rotate(-90)">2</text>
<text class="yl" transform="translate(541,1298) rotate(-90)">3</text>
<text class="yl" transform="translate(541,1277.3) rotate(-90)">4</text>
<text class="xl" transform="translate(584,1370) rotate(-90)">Non</text>
<text class="xl" transform="translate(639,1370) rotate(-90)">OSD</text>
<line class="wk" x1="582" y1="1328" x2="582" y2="1316.3"/><line class="wk" x1="582" y1="1335.3" x2="582" y2="1343"/>
<line class="cp" x1="572" y1="1316.3" x2="592" y2="1316.3"/><line class="cp" x1="572" y1="1343" x2="592" y2="1343"/>
<rect class="n" x="560" y="1328" width="44" height="7.3"/><line class="md" x1="560" y1="1332" x2="604" y2="1332"/>
<circle class="o" cx="582" cy="1300.7" r="3.5"/><circle class="o" cx="582" cy="1307.3" r="3.5"/>
<line class="wk" x1="637" y1="1316.3" x2="637" y2="1297.3"/><line class="wk" x1="637" y1="1338" x2="637" y2="1348"/>
<line class="cp" x1="627" y1="1297.3" x2="647" y2="1297.3"/><line class="cp" x1="627" y1="1348" x2="647" y2="1348"/>
<rect class="s" x="615" y="1316.3" width="44" height="21.7"/><line class="md" x1="615" y1="1332" x2="659" y2="1332"/>
<circle class="o" cx="637" cy="1259.7" r="3.5"/>
</g>

<g id="p-cit">
<rect class="fr" x="713" y="1257" width="119" height="97"/>
<text class="tt" x="772.5" y="1250">cit</text>
<path class="tk" d="M708 1347.3H713M708 1329H713M708 1310.7H713M708 1291H713M708 1271.3H713"/>
<text class="yl" transform="translate(705,1347.3) rotate(-90)">0</text>
<text class="yl" transform="translate(705,1310.7) rotate(-90)">2</text>
<text class="yl" transform="translate(705,1271.3) rotate(-90)">4</text>
<text class="xl" transform="translate(748,1370) rotate(-90)">Non</text>
<text class="xl" transform="translate(802,1370) rotate(-90)">OSD</text>
<line class="wk" x1="746" y1="1308" x2="746" y2="1259.7"/>
<line class="cp" x1="736" y1="1259.7" x2="756" y2="1259.7"/><line class="cp" x1="736" y1="1347.3" x2="756" y2="1347.3"/>
<rect class="n" x="724" y="1308" width="44" height="38.3"/><line class="md" x1="724" y1="1324.7" x2="768" y2="1324.7"/>
<line class="wk" x1="800" y1="1313" x2="800" y2="1291.3"/><line class="wk" x1="800" y1="1336.3" x2="800" y2="1347.3"/>
<line class="cp" x1="790" y1="1291.3" x2="810" y2="1291.3"/><line class="cp" x1="790" y1="1347.3" x2="810" y2="1347.3"/>
<rect class="s" x="778" y="1313" width="44" height="23.3"/><line class="md" x1="778" y1="1330.7" x2="822" y2="1330.7"/>
<circle class="o" cx="800" cy="1272" r="3.5"/>
</g>

<!-- Row 5 -->
<g id="p-orn">
<rect class="fr" x="57" y="1418" width="121" height="98"/>
<text class="tt" x="117.5" y="1411">orn</text>
<path class="tk" d="M52 1506.7H57M52 1494.5H57M52 1482.3H57M52 1470.1H57M52 1457.9H57M52 1445.7H57M52 1433.5H57M52 1421.3H57"/>
<text class="yl" transform="translate(49,1506.7) rotate(-90)">1</text>
<text class="yl" transform="translate(49,1482.3) rotate(-90)">3</text>
<text class="yl" transform="translate(49,1457.9) rotate(-90)">5</text>
<text class="yl" transform="translate(49,1433.5) rotate(-90)">7</text>
<text class="xl" transform="translate(93.5,1532) rotate(-90)">Non</text>
<text class="xl" transform="translate(148,1532) rotate(-90)">OSD</text>
<line class="wk" x1="91.5" y1="1504.3" x2="91.5" y2="1508.3"/>
<line class="cp" x1="81.5" y1="1496" x2="101.5" y2="1496"/><line class="cp" x1="81.5" y1="1508.3" x2="101.5" y2="1508.3"/>
<rect class="n" x="69" y="1497.3" width="45" height="7"/><line class="md" x1="69" y1="1501.7" x2="114" y2="1501.7"/>
<circle class="o" cx="91.5" cy="1480" r="3.5"/><circle class="o" cx="91.5" cy="1483.3" r="3.5"/><circle class="o" cx="91.5" cy="1486.7" r="3.5"/>
<line class="wk" x1="146" y1="1468.3" x2="146" y2="1440"/><line class="wk" x1="146" y1="1495" x2="146" y2="1510.7"/>
<line class="cp" x1="136" y1="1440" x2="156" y2="1440"/><line class="cp" x1="136" y1="1510.7" x2="156" y2="1510.7"/>
<rect class="s" x="124" y="1468.3" width="44" height="26.7"/><line class="md" x1="124" y1="1482.7" x2="168" y2="1482.7"/>
<circle class="o" cx="146" cy="1422.3" r="3.5"/>
</g>

<g id="p-cys2">
<rect class="fr" x="219" y="1418" width="123" height="98"/>
<text class="tt" x="280.5" y="1411">cys2</text>
<path class="tk" d="M214 1510H219M214 1493H219M214 1476H219M214 1458.4H219M214 1440.7H219M214 1423H219"/>
<text class="yl" transform="translate(211,1510) rotate(-90)">0.0</text>
<text class="yl" transform="translate(211,1476) rotate(-90)">0.4</text>
<text class="yl" transform="translate(211,1440.7) rotate(-90)">0.8</text>
<text class="xl" transform="translate(255.5,1532) rotate(-90)">Non</text>
<text class="xl" transform="translate(310.5,1532) rotate(-90)">OSD</text>
<line class="cp" x1="243.5" y1="1501" x2="263.5" y2="1501"/><line class="cp" x1="243.5" y1="1509.3" x2="263.5" y2="1509.3"/>
<line class="wk" x1="253.5" y1="1504" x2="253.5" y2="1501"/>
<rect class="n" x="231" y="1504" width="45" height="3.7"/><line class="md" x1="231" y1="1506.7" x2="276" y2="1506.7"/>
<circle class="o" cx="253.5" cy="1474" r="3.5"/>
<line class="wk" x1="308.5" y1="1476.7" x2="308.5" y2="1440.7"/>
<line class="cp" x1="298.5" y1="1440.7" x2="318.5" y2="1440.7"/><line class="cp" x1="298.5" y1="1510.7" x2="318.5" y2="1510.7"/>
<rect class="s" x="286" y="1476.7" width="45" height="30.6"/><line class="md" x1="286" y1="1505" x2="331" y2="1505"/>
<circle class="o" cx="308.5" cy="1422.3" r="3.5"/>
</g>

<g id="p-tau">
<rect class="fr" x="386" y="1418" width="120" height="98"/>
<text class="tt" x="446" y="1411">tau</text>
<path class="tk" d="M381 1503.3H386M381 1489.4H386M381 1475.5H386M381 1461.6H386M381 1447.7H386M381 1433.8H386M381 1420H386"/>
<text class="yl" transform="translate(378,1503.3) rotate(-90)">10</text>
<text class="yl" transform="translate(378,1461.6) rotate(-90)">40</text>
<text class="yl" transform="translate(378,1420) rotate(-90)">70</text>
<text class="xl" transform="translate(420,1532) rotate(-90)">Non</text>
<text class="xl" transform="translate(476.5,1532) rotate(-90)">OSD</text>
<line class="wk" x1="418" y1="1436.7" x2="418" y2="1420.7"/><line class="wk" x1="418" y1="1467.3" x2="418" y2="1483.3"/>
<line class="cp" x1="408" y1="1420.7" x2="428" y2="1420.7"/><line class="cp" x1="408" y1="1483.3" x2="428" y2="1483.3"/>
<rect class="n" x="395" y="1436.7" width="46" height="30.6"/><line class="md" x1="395" y1="1451.7" x2="441" y2="1451.7"/>
<line class="wk" x1="474.5" y1="1455" x2="474.5" y2="1430.7"/><line class="wk" x1="474.5" y1="1479.3" x2="474.5" y2="1511"/>
<line class="cp" x1="464.5" y1="1430.7" x2="484.5" y2="1430.7"/><line class="cp" x1="464.5" y1="1511" x2="484.5" y2="1511"/>
<rect class="s" x="452" y="1455" width="45" height="24.3"/><line class="md" x1="452" y1="1466.7" x2="497" y2="1466.7"/>
</g>

<g id="box-legend">
<rect x="541.5" y="1442" width="356" height="65" fill="#fff" stroke="#111" stroke-width="1.5"/>
<rect x="560" y="1460" width="28" height="10" fill="#6f6f6f" stroke="#222" stroke-width="1"/>
<rect x="560" y="1483" width="28" height="10" fill="#dadada" stroke="#222" stroke-width="1"/>
<text class="lg" x="598" y="1474" font-size="21.3">Non ocular surface disease</text>
<text class="lg" x="598" y="1497" font-size="21.3">Severe ocular surface disease</text>
</g>
</svg>
